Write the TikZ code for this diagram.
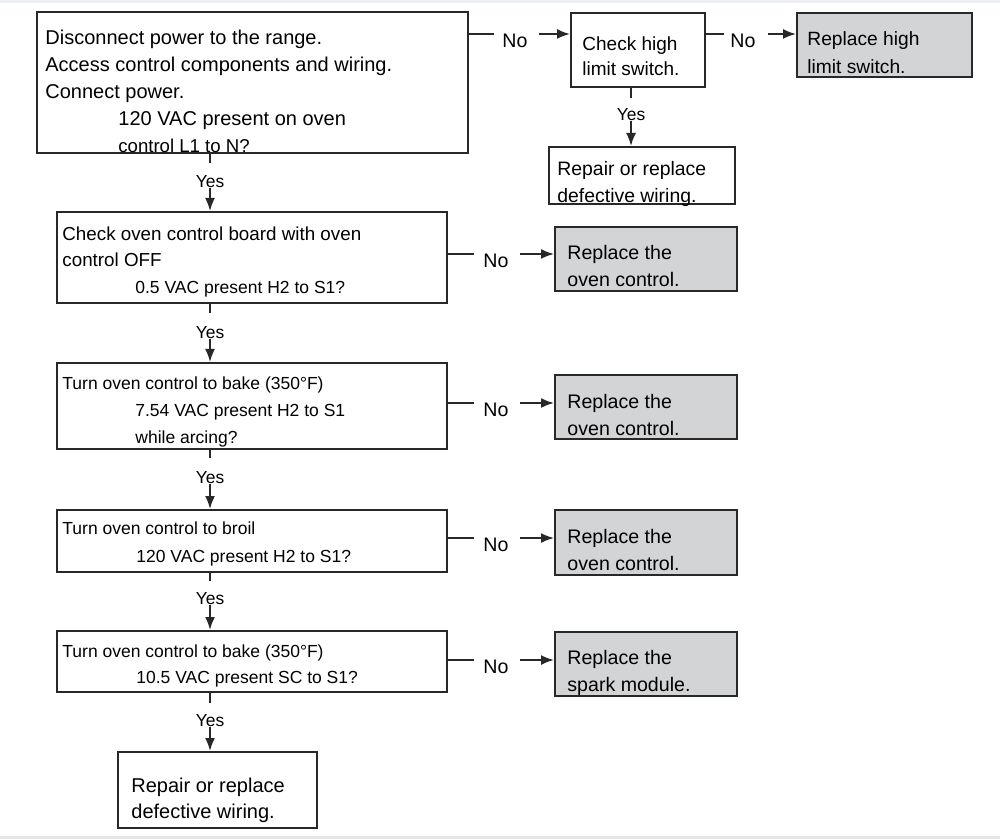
\documentclass[tikz,border=0pt]{standalone}
\usepackage{fontspec}
\setmainfont{Liberation Sans}
\usetikzlibrary{shapes,arrows.meta}
\definecolor{boxgray}{RGB}{211,212,214}
\definecolor{inkgray}{RGB}{40,40,40}
\definecolor{bandblue}{RGB}{236,240,245}
\definecolor{bandgray}{RGB}{230,230,230}
\tikzstyle{stepbox} = [draw=inkgray, line width=1pt, rectangle, inner sep=0pt]
\tikzstyle{endbox} = [stepbox, fill=boxgray]
\tikzstyle{boxtext} = [anchor=north west, align=left, inner sep=0pt, text=black]
\tikzstyle{yeslab} = [inner sep=0pt, text=black, font=\fontsize{8.7}{10}\selectfont]
\tikzstyle{nolab} = [anchor=north west, inner sep=0pt, text=black, font=\fontsize{9.8}{11}\selectfont]
\tikzstyle{link} = [draw=inkgray, line width=0.9pt]
\tikzstyle{linkarrow} = [link, -{Latex[length=6.5pt,width=5pt]}]

\begin{document}
\begin{tikzpicture}[x=0.5pt, y=-0.5pt]
\useasboundingbox (0,0) rectangle (1000,839);
\fill[white] (0,0) rectangle (1000,839);
\fill[bandblue] (0,0) rectangle (1000,3);
\fill[bandgray] (0,836) rectangle (1000,839);

% boxes
\node[stepbox, minimum width=215.5pt, minimum height=70.5pt] (power) at (252.5,82.5) {};
\node[stepbox, minimum width=67pt, minimum height=37pt] (limit) at (638,50) {};
\node[endbox, minimum width=87.5pt, minimum height=32pt] (newlimit) at (884.5,45) {};
\node[stepbox, minimum width=93pt, minimum height=28.5pt] (wiringA) at (642,175.5) {};
\node[stepbox, minimum width=195pt, minimum height=45.5pt] (board) at (252,257.5) {};
\node[endbox, minimum width=91pt, minimum height=32pt] (ctrlA) at (646,259) {};
\node[stepbox, minimum width=195pt, minimum height=43pt] (bake) at (252,406) {};
\node[endbox, minimum width=91pt, minimum height=32pt] (ctrlB) at (646,407) {};
\node[stepbox, minimum width=195pt, minimum height=31pt] (broil) at (252,541) {};
\node[endbox, minimum width=91pt, minimum height=32.5pt] (ctrlC) at (646,542.5) {};
\node[stepbox, minimum width=195pt, minimum height=30.5pt] (spark) at (252,661.5) {};
\node[endbox, minimum width=91pt, minimum height=32pt] (module) at (646,664) {};
\node[stepbox, minimum width=99.5pt, minimum height=38pt] (wiringB) at (217.5,790) {};

% texts
\node[boxtext, font=\fontsize{10}{13.5}\selectfont] (powertxt) at (45,30)
  {Disconnect power to the range.\\Access control components and wiring.\\Connect power.\\
   \hspace*{36.5pt}120 VAC present on oven\\\hspace*{36.5pt}{\fontsize{9.3}{13.5}\selectfont control L1 to N?}};
\node[boxtext, font=\fontsize{9.5}{12.5}\selectfont] (limittxt) at (582,36) {Check high\\limit switch.};
\node[boxtext, font=\fontsize{9.6}{14}\selectfont] (newlimittxt) at (807,31) {Replace high\\limit switch.};
\node[boxtext, font=\fontsize{9.7}{13.5}\selectfont] (wiringAtxt) at (557,161) {Repair or replace\\defective wiring.};
\node[boxtext, font=\fontsize{9.4}{13.25}\selectfont] (boardtxt) at (62,226)
  {Check oven control board with oven\\control OFF\\\hspace*{36.5pt}{\fontsize{8.75}{13.25}\selectfont 0.5 VAC present H2 to S1?}};
\node[boxtext, font=\fontsize{9.8}{13.5}\selectfont] (ctrlAtxt) at (567,245) {Replace the\\oven control.};
\node[boxtext, font=\fontsize{8.75}{13.5}\selectfont] (baketxt) at (62,376.5)
  {Turn oven control to bake (350°F)\\\hspace*{36.5pt}7.54 VAC present H2 to S1\\\hspace*{36.5pt}while arcing?};
\node[boxtext, font=\fontsize{9.8}{13.5}\selectfont] (ctrlBtxt) at (567,394) {Replace the\\oven control.};
\node[boxtext, font=\fontsize{8.75}{14}\selectfont] (broiltxt) at (62,521.5)
  {Turn oven control to broil\\\hspace*{37pt}120 VAC present H2 to S1?};
\node[boxtext, font=\fontsize{9.8}{13.5}\selectfont] (ctrlCtxt) at (567,529) {Replace the\\oven control.};
\node[boxtext, font=\fontsize{8.75}{13}\selectfont] (sparktxt) at (62,644.5)
  {Turn oven control to bake (350°F)\\\hspace*{37pt}10.5 VAC present SC to S1?};
\node[boxtext, font=\fontsize{9.8}{13.5}\selectfont] (moduletxt) at (567,650) {Replace the\\spark module.};
\node[boxtext, font=\fontsize{10}{13}\selectfont] (wiringBtxt) at (131,777.5) {Repair or replace\\defective wiring.};

% yes branches
\node[yeslab] (yes0) at (631,115) {Yes};
\draw[link] (yes0 |- limit.south) -- ++(0,10);
\draw[linkarrow] (yes0.south) -- (yes0 |- wiringA.north);
\node[yeslab] (yes1) at (210,182) {Yes};
\draw[link] (yes1 |- power.south) -- ++(0,9);
\draw[linkarrow] (yes1.south) -- (yes1 |- board.north);
\node[yeslab] (yes2) at (210,333) {Yes};
\draw[link] (yes2 |- board.south) -- ++(0,9);
\draw[linkarrow] (yes2.south) -- (yes2 |- bake.north);
\node[yeslab] (yes3) at (210,478) {Yes};
\draw[link] (yes3 |- bake.south) -- ++(0,8);
\draw[linkarrow] (yes3.south) -- (yes3 |- broil.north);
\node[yeslab] (yes4) at (210,599) {Yes};
\draw[link] (yes4 |- broil.south) -- ++(0,8);
\draw[linkarrow] (yes4.south) -- (yes4 |- spark.north);
\node[yeslab] (yes5) at (210,721) {Yes};
\draw[link] (yes5 |- spark.south) -- ++(0,10);
\draw[linkarrow] (yes5.south) -- (yes5 |- wiringB.north);

% no branches
\node[nolab] (no1) at (502,34) {No};
\draw[link] (power.east |- no1.north) -- ++(25,0);
\draw[linkarrow] ([xshift=5.5pt]no1.north east) -- (no1.north -| limit.west);
\node[nolab] (no2) at (730,34) {No};
\draw[link] (limit.east |- no2.north) -- ++(18,0);
\draw[linkarrow] ([xshift=6pt]no2.north east) -- (no2.north -| newlimit.west);
\node[nolab] (no3) at (483,254) {No};
\draw[link] (board.east |- no3.north) -- ++(26,0);
\draw[linkarrow] ([xshift=5.5pt]no3.north east) -- (no3.north -| ctrlA.west);
\node[nolab] (no4) at (483,403) {No};
\draw[link] (bake.east |- no4.north) -- ++(26,0);
\draw[linkarrow] ([xshift=5.5pt]no4.north east) -- (no4.north -| ctrlB.west);
\node[nolab] (no5) at (483,538) {No};
\draw[link] (broil.east |- no5.north) -- ++(26,0);
\draw[linkarrow] ([xshift=5.5pt]no5.north east) -- (no5.north -| ctrlC.west);
\node[nolab] (no6) at (483,660) {No};
\draw[link] (spark.east |- no6.north) -- ++(26,0);
\draw[linkarrow] ([xshift=5.5pt]no6.north east) -- (no6.north -| module.west);
\end{tikzpicture}
\end{document}
